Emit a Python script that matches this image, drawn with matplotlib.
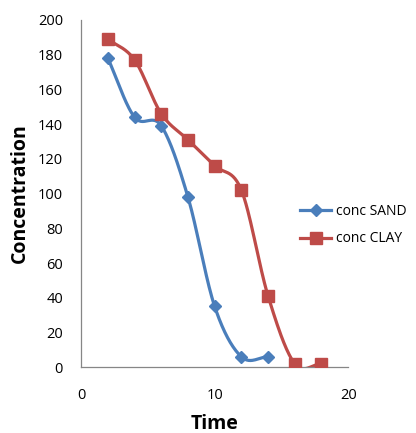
import numpy as np
import matplotlib

matplotlib.use("Agg")
import matplotlib.pyplot as plt

# data
time_sand = [2, 4, 6, 8, 10, 12, 14]
conc_sand = [178, 144, 139, 98, 35, 6, 6]
time_clay = [2, 4, 6, 8, 10, 12, 14, 16, 18]
conc_clay = [189, 177, 146, 131, 116, 102, 41, 2, 2]

BLUE = "#4a7ebb"
RED = "#be4b48"


def smooth(x, y, n=30):
    # Catmull-Rom style curve like Excel's "smoothed line"
    x = np.asarray(x, float)
    y = np.asarray(y, float)
    px = np.concatenate([[2 * x[0] - x[1]], x, [2 * x[-1] - x[-2]]])
    py = np.concatenate([[2 * y[0] - y[1]], y, [2 * y[-1] - y[-2]]])
    xs, ys = [], []
    t = np.linspace(0, 1, n)
    for i in range(1, len(px) - 2):
        for p, out in ((px, xs), (py, ys)):
            p0, p1, p2, p3 = p[i - 1], p[i], p[i + 1], p[i + 2]
            c1 = p1 + (p2 - p0) / 6
            c2 = p2 - (p3 - p1) / 6
            out.extend((1 - t) ** 3 * p1 + 3 * (1 - t) ** 2 * t * c1
                       + 3 * (1 - t) * t ** 2 * c2 + t ** 3 * p2)
    return xs, ys


plt.rcParams["font.family"] = ["Open Sans", "DejaVu Sans"]

fig = plt.figure(figsize=(4.16, 4.33), dpi=100)
ax = fig.add_axes([0.195, 0.152, 0.642, 0.802])

sx, sy = smooth(time_sand, conc_sand)
ax.plot(sx, sy, color=BLUE, linewidth=2.3, zorder=2)
ax.plot(time_sand, conc_sand, linestyle="none", marker="D", markersize=6.5,
        color=BLUE, zorder=3)
cx, cy = smooth(time_clay, conc_clay)
ax.plot(cx, cy, color=RED, linewidth=2.3, zorder=2)
ax.plot(time_clay, conc_clay, linestyle="none", marker="s", markersize=9,
        color=RED, zorder=3)

# legend proxies
h1, = ax.plot([], [], color=BLUE, linewidth=2.3, marker="D", markersize=6.5)
h2, = ax.plot([], [], color=RED, linewidth=2.3, marker="s", markersize=9)
fig.legend([h1, h2], ["conc SAND", "conc CLAY"], loc="center left",
           bbox_to_anchor=(0.69, 0.48), frameon=False, fontsize=10,
           handlelength=2.3, handletextpad=0.3, labelspacing=0.9)

ax.set_xlim(0, 20)
ax.set_ylim(0, 200)
ax.set_xticks([0, 10, 20])
ax.set_yticks(range(0, 201, 20))
ax.tick_params(axis="both", length=0, labelsize=10.5)
ax.tick_params(axis="x", pad=15)
ax.tick_params(axis="y", pad=13)
for s in ("top", "right"):
    ax.spines[s].set_visible(False)
for s in ("left", "bottom"):
    ax.spines[s].set_color("#868686")
    ax.spines[s].set_linewidth(0.9)

ax.set_xlabel("Time", fontsize=14, fontweight="bold", labelpad=8)
ax.set_ylabel("Concentration", fontsize=14, fontweight="bold", labelpad=6)

fig.savefig("out.png", dpi=100)
